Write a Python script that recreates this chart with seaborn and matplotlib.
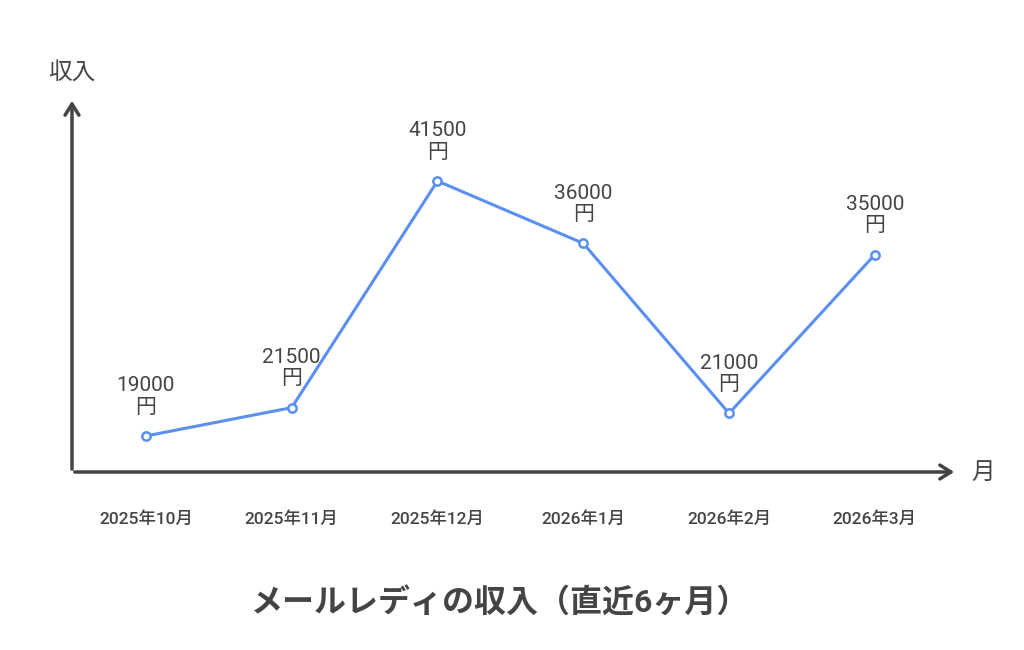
import matplotlib
matplotlib.use("Agg")
import matplotlib.pyplot as plt
import seaborn as sns
import pandas as pd

months = ["2025年10月", "2025年11月", "2025年12月", "2026年1月", "2026年2月", "2026年3月"]
income = [19000, 21500, 41500, 36000, 21000, 35000]

sns.set_style("white")
plt.rcParams['font.family'] = ['Roboto', 'Noto Sans CJK JP', 'DejaVu Sans']

W, H = 1024, 650
fig = plt.figure(figsize=(W / 100, H / 100), dpi=100)
ax = fig.add_axes([72 / W, (H - 472) / H, (955 - 72) / W, (472 - 100) / H])

df = pd.DataFrame({"x": range(len(months)), "y": income})
sns.lineplot(data=df, x="x", y="y", ax=ax, color="#5b8ff0", linewidth=2.2,
             marker="o", markersize=6, markerfacecolor="white",
             markeredgecolor="#5b8ff0", markeredgewidth=1.8)

ax.set_xlim(-0.507, 5.55)
ax.set_ylim(15820, 48650)
for s in ax.spines.values():
    s.set_visible(False)
ax.set_xticks([])
ax.set_yticks([])
ax.set_xlabel("")
ax.set_ylabel("")

dark = "#444444"
for i, v in enumerate(income):
    ax.annotate(f"{v}\n円", (i, v), xytext=(0, 14), textcoords="offset points",
                ha="center", va="bottom", fontsize=15, color=dark, linespacing=1.15)
    ax.annotate(months[i], (i, 15820), xytext=(0, -34), textcoords="offset points",
                ha="center", va="center", fontsize=12.5, color=dark, fontweight="medium")

ax.annotate("", xy=(72 / W, (H - 98) / H), xytext=(72 / W, (H - 472) / H),
            xycoords="figure fraction", textcoords="figure fraction",
            arrowprops=dict(arrowstyle="->,head_length=0.8,head_width=0.5", color=dark, lw=2.5))
ax.annotate("", xy=(957 / W, (H - 472) / H), xytext=(72 / W, (H - 472) / H),
            xycoords="figure fraction", textcoords="figure fraction",
            arrowprops=dict(arrowstyle="->,head_length=0.8,head_width=0.5", color=dark, lw=2.5))

fig.text(72 / W, (H - 72) / H, "収入", ha="center", va="center", fontsize=17, color=dark)
fig.text(983 / W, (H - 472) / H, "月", ha="center", va="center", fontsize=17, color=dark)
fig.text(500 / W, (H - 603) / H, "メールレディの収入（直近6ヶ月）", ha="center", va="center",
         fontsize=23, fontweight="bold", color=dark)

fig.savefig("out.png", dpi=100, facecolor="white")
